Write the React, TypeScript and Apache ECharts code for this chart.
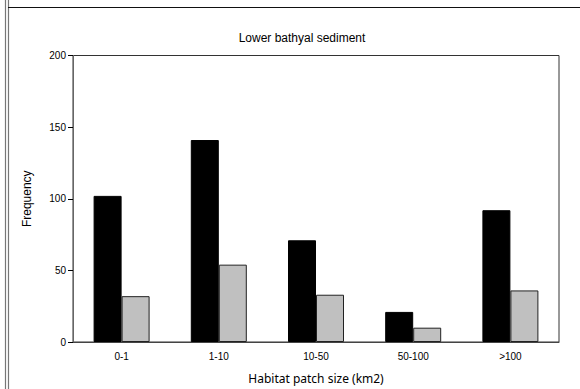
import React, { useEffect, useRef } from "react";
import * as echarts from "echarts";

const categories = ["0-1", "1-10", "10-50", "50-100", ">100"];
const blackValues = [102, 141, 71, 21, 92];
const greyValues = [32, 54, 33, 10, 36];
const yTicks = { min: 0, max: 200, interval: 50 };
const titleText = "Lower bathyal sediment";
const xName = "Habitat patch size (km2)";
const yName = "Frequency";

const FONT = "Arial, 'Liberation Sans', sans-serif";

export default function App() {
  const ref = useRef<HTMLDivElement>(null);
  useEffect(() => {
    if (!ref.current) return;
    const chart = echarts.init(ref.current, null, { renderer: "svg" });
    chart.setOption({
      animation: false,
      backgroundColor: "#ffffff",
      textStyle: { fontFamily: FONT },
      title: {
        text: titleText,
        left: 297,
        top: 27,
        textAlign: "center",
        textStyle: { fontSize: 12, fontWeight: "normal", color: "#000", fontFamily: FONT },
      },
      graphic: [
        { type: "line", shape: { x1: 5.5, y1: 0, x2: 5.5, y2: 389 }, style: { stroke: "#777", lineWidth: 1.2 } },
        { type: "line", shape: { x1: 8.5, y1: 0, x2: 8.5, y2: 389 }, style: { stroke: "#777", lineWidth: 1.2 } },
        { type: "line", shape: { x1: 8, y1: 7.5, x2: 580, y2: 7.5 }, style: { stroke: "#111", lineWidth: 1.2 } },
      ],
      grid: {
        left: 73,
        top: 55.5,
        right: 21,
        bottom: 45.5,
        show: true,
        borderColor: "#333",
        borderWidth: 1,
        backgroundColor: "transparent",
      },
      xAxis: {
        type: "category",
        data: categories,
        name: xName,
        nameLocation: "middle",
        nameGap: 30,
        nameTextStyle: { fontSize: 12, color: "#000", fontFamily: "'Noto Sans', sans-serif" },
        axisLine: { lineStyle: { color: "#444", width: 1 } },
        axisTick: { alignWithLabel: true, length: 5, lineStyle: { color: "#000" } },
        axisLabel: { fontSize: 10, color: "#000", margin: 9 },
      },
      yAxis: {
        type: "value",
        min: yTicks.min,
        max: yTicks.max,
        interval: yTicks.interval,
        name: yName,
        nameLocation: "middle",
        nameGap: 40,
        nameTextStyle: { fontSize: 12, color: "#000", fontFamily: FONT },
        splitLine: { show: false },
        axisLine: { show: true, lineStyle: { color: "#666", width: 1 } },
        axisTick: { show: true, length: 5, lineStyle: { color: "#000" } },
        axisLabel: { fontSize: 10, color: "#000", margin: 7 },
      },
      series: [
        {
          type: "bar",
          data: blackValues,
          barWidth: 28,
          barGap: "0%",
          itemStyle: { color: "#000000", borderColor: "#000", borderWidth: 1 },
        },
        {
          type: "bar",
          data: greyValues,
          barWidth: 28,
          barGap: "0%",
          itemStyle: { color: "#c0c0c0", borderColor: "#222", borderWidth: 1 },
        },
      ],
    });
    return () => chart.dispose();
  }, []);
  return <div ref={ref} style={{ width: 580, height: 389, position: "absolute", left: 0, top: 0 }} />;
}
